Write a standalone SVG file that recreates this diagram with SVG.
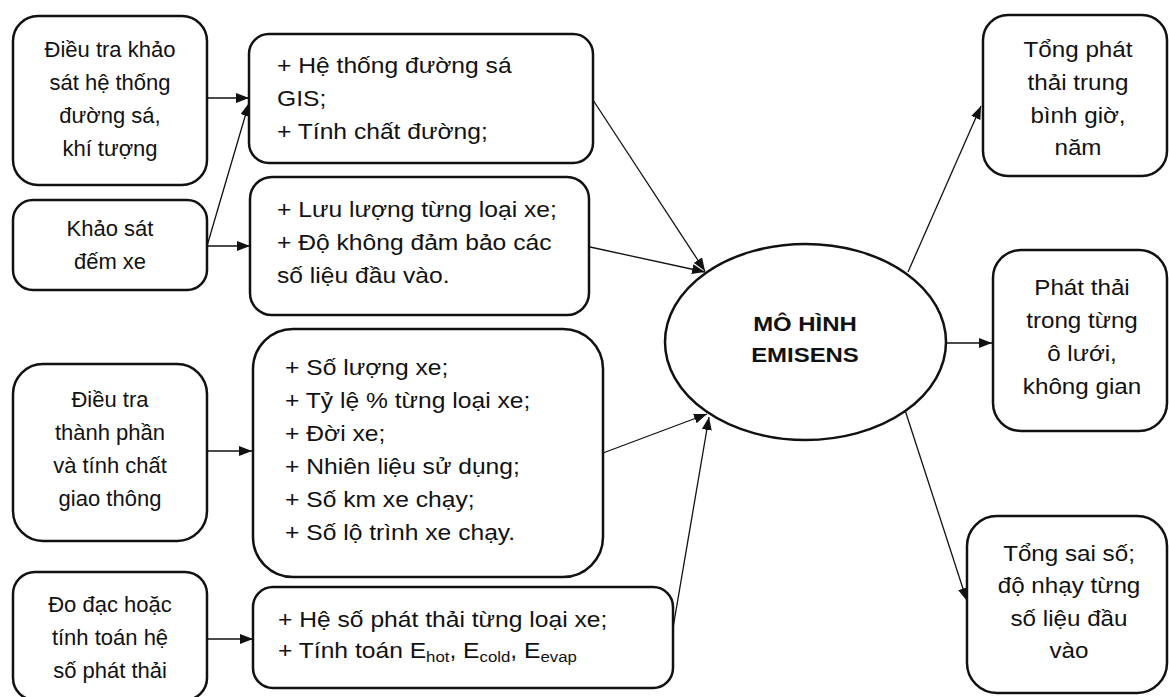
<svg xmlns="http://www.w3.org/2000/svg" width="1169" height="697" viewBox="0 0 1169 697">
<style>
.box{fill:#fff;stroke:#111;stroke-width:2.5}
.t{font-family:"Liberation Sans",Arial,sans-serif;font-size:22px;fill:#111}
.c{text-anchor:middle}
.b{font-weight:bold;font-size:21px}
.con{stroke:#111;stroke-width:1.3;fill:none;marker-end:url(#ah)}
</style>
<defs>
<marker id="ah" viewBox="0 0 13 10" refX="13" refY="5" markerWidth="13" markerHeight="10" markerUnits="userSpaceOnUse" orient="auto">
<path d="M0,0 L13,5 L0,10 z" fill="#111"/>
</marker>
</defs>
<rect width="1169" height="697" fill="#fff"/>

<g id="connectors">
<line class="con" x1="207" y1="98" x2="249" y2="98"/>
<line class="con" x1="207" y1="246" x2="249" y2="103"/>
<line class="con" x1="207" y1="246" x2="250" y2="246"/>
<line class="con" x1="207" y1="451" x2="252" y2="451"/>
<line class="con" x1="207" y1="639" x2="253" y2="639"/>
<line class="con" x1="593" y1="100" x2="705" y2="271"/>
<line class="con" x1="590" y1="247" x2="705" y2="272"/>
<line class="con" x1="603" y1="453" x2="707" y2="414"/>
<line class="con" x1="673" y1="628" x2="709" y2="417"/>
<line class="con" x1="908" y1="272" x2="981" y2="106"/>
<line class="con" x1="945" y1="343" x2="992" y2="343"/>
<line class="con" x1="905" y1="410" x2="967" y2="601"/>
</g>

<g id="nodeA">
<rect class="box" x="13" y="16" width="194" height="169" rx="25"/>
<text class="t c"><tspan x="110" y="57">Điều tra khảo</tspan><tspan x="110" y="90">sát hệ thống</tspan><tspan x="110" y="123">đường sá,</tspan><tspan x="110" y="156">khí tượng</tspan></text>
</g>
<g id="nodeB">
<rect class="box" x="13" y="200" width="194" height="90" rx="20"/>
<text class="t c"><tspan x="110" y="236">Khảo sát</tspan><tspan x="110" y="269">đếm xe</tspan></text>
</g>
<g id="nodeE">
<rect class="box" x="13" y="364" width="194" height="177" rx="30"/>
<text class="t c"><tspan x="110" y="407">Điều tra</tspan><tspan x="110" y="440">thành phần</tspan><tspan x="110" y="473">và tính chất</tspan><tspan x="110" y="506">giao thông</tspan></text>
</g>
<g id="nodeG">
<rect class="box" x="13" y="572" width="194" height="128" rx="22"/>
<text class="t c"><tspan x="110" y="612">Đo đạc hoặc</tspan><tspan x="110" y="645">tính toán hệ</tspan><tspan x="110" y="678">số phát thải</tspan></text>
</g>

<g id="nodeC">
<rect class="box" x="249" y="34" width="344" height="129" rx="20"/>
<text class="t" transform="translate(277,0) scale(1.12,1)"><tspan x="0" y="73">+ Hệ thống đường sá</tspan><tspan x="0" y="106">GIS;</tspan><tspan x="0" y="139">+ Tính chất đường;</tspan></text>
</g>
<g id="nodeD">
<rect class="box" x="250" y="177" width="339" height="138" rx="22"/>
<text class="t" transform="translate(277,0) scale(1.12,1)"><tspan x="0" y="217">+ Lưu lượng từng loại xe;</tspan><tspan x="0" y="250">+ Độ không đảm bảo các</tspan><tspan x="0" y="283">số liệu đầu vào.</tspan></text>
</g>
<g id="nodeF">
<rect class="box" x="253" y="329" width="350" height="248" rx="40"/>
<text class="t" transform="translate(285,0) scale(1.12,1)"><tspan x="0" y="375">+ Số lượng xe;</tspan><tspan x="0" y="408">+ Tỷ lệ % từng loại xe;</tspan><tspan x="0" y="441">+ Đời xe;</tspan><tspan x="0" y="474">+ Nhiên liệu sử dụng;</tspan><tspan x="0" y="507">+ Số km xe chạy;</tspan><tspan x="0" y="540">+ Số lộ trình xe chạy.</tspan></text>
</g>
<g id="nodeH">
<rect class="box" x="253" y="587" width="420" height="101" rx="20"/>
<text class="t" transform="translate(278,0) scale(1.12,1)"><tspan x="0" y="627">+ Hệ số phát thải từng loại xe;</tspan><tspan x="0" y="658">+ Tính toán E</tspan><tspan font-size="15" dy="4">hot</tspan><tspan dy="-4">, E</tspan><tspan font-size="15" dy="4">cold</tspan><tspan dy="-4">, E</tspan><tspan font-size="15" dy="4">evap</tspan></text>
</g>

<g id="nodeModel">
<ellipse class="box" cx="805.5" cy="342" rx="140.5" ry="98"/>
<text class="t b c" transform="translate(805,0) scale(1.14,1)"><tspan x="0" y="331">MÔ HÌNH</tspan><tspan x="0" y="362">EMISENS</tspan></text>
</g>

<g id="nodeR1">
<rect class="box" x="983" y="15" width="184" height="161" rx="25"/>
<text class="t c" transform="translate(1078,0) scale(1.1,1)"><tspan x="0" y="57">Tổng phát</tspan><tspan x="0" y="90">thải trung</tspan><tspan x="0" y="123">bình giờ,</tspan><tspan x="0" y="155">năm</tspan></text>
</g>
<g id="nodeR2">
<rect class="box" x="993" y="250" width="174" height="181" rx="28"/>
<text class="t c" transform="translate(1082,0) scale(1.1,1)"><tspan x="0" y="295">Phát thải</tspan><tspan x="0" y="328">trong từng</tspan><tspan x="0" y="361">ô lưới,</tspan><tspan x="0" y="394">không gian</tspan></text>
</g>
<g id="nodeR3">
<rect class="box" x="967" y="516" width="200" height="177" rx="30"/>
<text class="t c" transform="translate(1069,0) scale(1.1,1)"><tspan x="0" y="561">Tổng sai số;</tspan><tspan x="0" y="593">độ nhạy từng</tspan><tspan x="0" y="626">số liệu đầu</tspan><tspan x="0" y="658">vào</tspan></text>
</g>
</svg>
